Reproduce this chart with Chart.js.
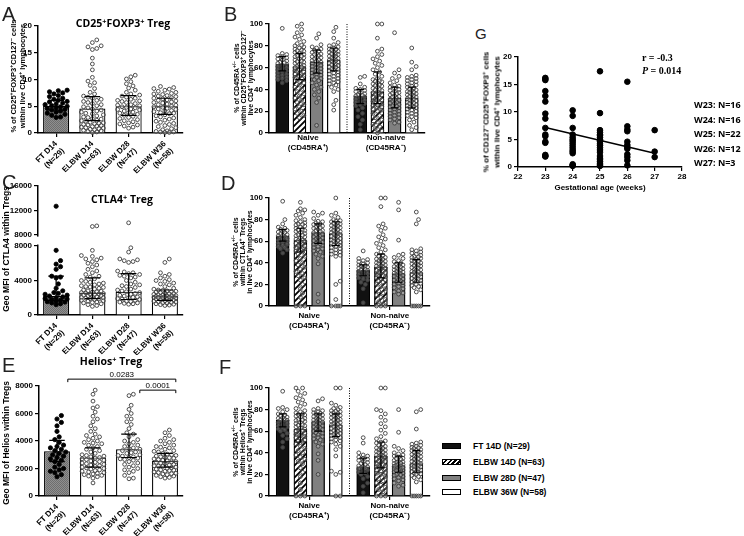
<!DOCTYPE html>
<html>
<head>
<meta charset="utf-8">
<title>Treg subsets in ELBW infants</title>
<script src="https://cdn.jsdelivr.net/npm/chart.js@4.4.1/dist/chart.umd.min.js"></script>
<style>
body { margin:0; background:#fff; }
#fig { position:relative; width:744px; height:536px; overflow:hidden; font-family:"Liberation Sans", Arial, sans-serif; color:#000; }
#fig canvas { position:absolute; }
.t { position:absolute; white-space:nowrap; font-weight:bold; transform:translate(-50%,-50%); text-align:center; }
.rot { transform:translate(-50%,-50%) rotate(-90deg); }
.let { position:absolute; font-size:20px; line-height:20px; color:#222; }
.ttl { font-family:"Open Sans", sans-serif; font-size:10.5px; }
.ya { font-size:7.5px; line-height:8.5px; }
.yb { font-size:7px; line-height:7px; }
.yc { font-size:8.5px; }
sup { font-size:70%; line-height:0; vertical-align:0.45em; }
.key { position:absolute; left:442px; width:17px; height:4px; border:1.5px solid #000; }
.keyt { position:absolute; left:473px; font-size:8.5px; font-weight:bold; transform:translateY(-50%); white-space:nowrap; }
.stat { position:absolute; left:642px; font-family:"Liberation Serif", serif; font-weight:bold; font-size:10px; transform:translateY(-50%); white-space:nowrap; }
.wk { position:absolute; left:694px; top:98px; font-family:"Open Sans", sans-serif; font-weight:bold; font-size:9px; line-height:14.5px; white-space:nowrap; }
</style>
</head>
<body>
<div id="fig">
 <canvas id="cA" width="200" height="180" style="left:0;top:0"></canvas>
 <canvas id="cC" width="200" height="185" style="left:0;top:170px"></canvas>
 <canvas id="cE" width="200" height="196" style="left:0;top:340px"></canvas>
 <canvas id="cB" width="190" height="160" style="left:240px;top:0"></canvas>
 <canvas id="cD" width="195" height="170" style="left:240px;top:170px"></canvas>
 <canvas id="cF" width="195" height="196" style="left:240px;top:340px"></canvas>
 <canvas id="cG" width="200" height="175" style="left:490px;top:20px"></canvas>

 <div class="let" style="left:2px;top:4px">A</div>
 <div class="let" style="left:224px;top:4px">B</div>
 <div class="let" style="left:2px;top:172px">C</div>
 <div class="let" style="left:221px;top:173px">D</div>
 <div class="let" style="left:2px;top:355px">E</div>
 <div class="let" style="left:219px;top:357px">F</div>
 <div class="let" style="left:475px;top:26px;font-size:15px;line-height:15px">G</div>

 <div class="t ttl" style="left:123px;top:23px">CD25<sup>+</sup>FOXP3<sup>+</sup> Treg</div>
 <div class="t ttl" style="left:122px;top:199px">CTLA4<sup>+</sup> Treg</div>
 <div class="t ttl" style="left:111px;top:361px">Helios<sup>+</sup> Treg</div>

 <div class="t rot ya" style="left:17.5px;top:76px">% of CD25<sup>+</sup>FOXP3<sup>+</sup>CD127<sup>&minus;</sup> cells<br>within live CD4<sup>+</sup> lymphocytes</div>
 <div class="t rot yc" style="left:6px;top:249px">Geo MFI of CTLA4 within Tregs</div>
 <div class="t rot yc" style="left:6px;top:443px">Geo MFI of Helios within Tregs</div>
 <div class="t rot yb" style="left:242.5px;top:78px">% of CD45RA<sup>+/&minus;</sup> cells<br>within CD25<sup>+</sup>FOXP3<sup>+</sup> CD127<sup>&minus;</sup><br>live CD4<sup>+</sup> lymphocytes</div>
 <div class="t rot yb" style="left:242px;top:252px">% of CD45RA<sup>+/&minus;</sup> cells<br>within CTLA4<sup>+</sup> Tregs<br>in live CD4<sup>+</sup> lymphocytes</div>
 <div class="t rot yb" style="left:242px;top:442px">% of CD45RA<sup>+/&minus;</sup> cells<br>within Helios<sup>+</sup> Tregs<br>in live CD4<sup>+</sup> lymphocytes</div>
 <div class="t rot" style="left:492px;top:112px;font-size:8px;line-height:10.5px">% of CD127<sup>&minus;</sup>CD25<sup>+</sup>FOXP3<sup>+</sup> cells<br>within live CD4<sup>+</sup> lymphocytes</div>

 <div class="stat" style="top:57px">r = -0.3</div>
 <div class="stat" style="top:70px"><i>P</i> = 0.014</div>
 <div class="wk" id="wk"></div>
 <div id="keys"></div>
</div>
<script>
Chart.defaults.font.family = '"Liberation Sans", Arial, sans-serif';
Chart.defaults.color = '#000';

// categories
var groupLabels = [['FT D14', '(N=29)'], ['ELBW D14', '(N=63)'], ['ELBW D28', '(N=47)'], ['ELBW W36', '(N=58)']];
var subsetLabels = [['Naive', '(CD45RA\u207A)'], ['Non-naive', '(CD45RA\u207B)']];
var legendNames = ['FT 14D (N=29)', 'ELBW 14D (N=63)', 'ELBW 28D (N=47)', 'ELBW 36W (N=58)'];

// A: CD25+FOXP3+ Treg, % of live CD4+
var aFT = [8.0,7.9,7.7,7.5,7.3,7.0,6.8,6.5,6.3,6.1,5.9,5.8,5.6,5.4,5.3,5.1,5.0,4.9,4.7,4.6,4.4,4.3,4.1,3.9,3.7,3.5,3.3,3.0,2.9];
var aD14 = [17.4,16.9,16.3,16.1,15.8,15.6,14.0,12.9,11.8,10.4,9.7,9.4,8.9,8.3,7.6,7.3,6.9,6.7,6.5,6.3,6.1,5.9,5.7,5.5,5.3,5.1,4.9,4.7,4.5,4.3,4.1,3.9,3.7,3.6,3.4,3.2,3.0,2.9,2.7,2.6,2.4,2.3,2.2,2.0,1.9,1.8,1.7,1.6,1.5,1.4,1.3,1.2,1.1,1.0,0.9,0.8,0.7,0.6,0.5,0.4,0.3,0.2,0.1];
var aD28 = [10.8,10.5,10.1,9.6,9.2,8.8,8.4,8.0,7.6,7.3,7.1,6.9,6.7,6.5,6.3,6.1,5.9,5.7,5.5,5.3,5.1,4.9,4.7,4.5,4.3,4.1,3.9,3.7,3.5,3.3,3.1,2.9,2.7,2.5,2.3,2.1,1.9,1.7,1.5,1.3,1.1,0.9,5.2,4.8,4.4,6.0,3.8];
var aW36 = [8.7,8.5,8.3,8.2,8.0,7.8,7.6,7.4,7.2,7.0,6.8,6.6,6.4,6.2,6.0,5.8,5.6,5.4,5.2,5.0,4.9,4.8,4.6,4.4,4.2,4.0,3.8,3.6,3.4,3.2,3.0,2.8,2.6,2.4,2.2,2.0,1.8,1.6,1.4,1.2,1.0,0.8,0.6,0.4,0.3,0.2,0.2,0.1,0.1,5.3,5.7,6.1,6.5,6.9,7.3,4.5,4.1,3.7];
var aMean = [5.1, 4.6, 5.0, 5.0];
var aLo = [4.3, 2.3, 3.3, 3.5];
var aHi = [6.1, 6.8, 7.0, 6.5];
var aTicks = [0, 5, 10, 15, 20];

// C: CTLA4 geo MFI within Tregs (broken axis at 8000)
var cFT = [12700,7500,6300,5900,5600,5300,4500,4400,4300,3600,3100,2800,2500,2300,2200,2100,2000,1900,1800,1700,1600,1500,1400,1300,1200,2600,2400,1850,1550];
var cD14 = [9500,9400,7500,6900,6800,6600,6500,6200,6000,5800,5600,5100,4900,4700,4500,4400,4200,4000,3900,3700,3600,3500,3400,3300,3200,3100,3000,2900,2800,2700,2650,2600,2550,2500,2450,2400,2350,2300,2250,2200,2150,2100,2050,2000,1950,1900,1850,1800,1700,1600,1500,1400,1300,1200,1100,1000,2750,3250,3800,5300,6400,1650,1450];
var cD28 = [10000,7800,7300,6500,6400,6300,6200,6100,5100,5000,4900,4800,4700,4600,4500,4300,4000,3800,3600,3400,3200,3000,2900,2800,2700,2600,2500,2400,2300,2200,2100,2000,1900,1800,1700,1600,1500,1400,1300,1250,4400,3500,3300,2050,1850,1550,1350];
var cW36 = [6500,6100,4900,4700,4500,4300,4100,3900,3700,3500,3300,3100,3000,2900,2850,2800,2750,2700,2650,2600,2550,2500,2450,2400,2350,2300,2250,2200,2150,2100,2050,2000,1950,1900,1850,1800,1750,1700,1650,1600,1550,1500,1450,1400,1350,1300,1250,1200,1150,1100,2220,2180,2120,2080,2020,1980,3600,4000];
var cMean = [2200, 2600, 2700, 2200];
var cLo = [1700, 1900, 1800, 1700];
var cHi = [4500, 4300, 4800, 2900];
var cLowTicks = [0, 2000, 4000, 6000, 8000];
var cTopTicks = [8000, 12000, 16000];
var cBreak = 8000;

// E: Helios geo MFI within Tregs
var eFT = [5850,5600,5350,5100,4700,4300,4100,3900,3700,3500,3400,3300,3200,3100,3000,2900,2800,2700,2600,2500,2300,2100,2000,1900,1800,1700,1550,1400,3600];
var eD14 = [7700,7400,6900,6500,6400,6100,5800,5600,5400,5100,4900,4700,4500,4400,4300,4200,4100,4000,3900,3800,3700,3600,3500,3400,3300,3200,3100,3000,2950,2900,2850,2800,2750,2700,2650,2600,2550,2500,2450,2400,2350,2300,2250,2200,2150,2100,2050,2000,1950,1900,1850,1800,1750,1700,1650,1600,1550,1500,1450,1400,1300,950,3850];
var eD28 = [7400,7300,6600,6300,6000,5800,5600,5400,5200,4900,4600,4500,4300,4100,4000,3900,3800,3700,3600,3500,3400,3300,3200,3100,3000,2950,2900,2850,2800,2750,2700,2600,2500,2400,2300,2200,2100,2000,1900,1800,1700,1500,1300,1250,3450,3150,2650];
var eW36 = [4800,4600,4400,4200,4000,3900,3800,3700,3600,3500,3400,3300,3200,3100,3000,2950,2900,2850,2800,2750,2700,2650,2600,2550,2500,2450,2400,2350,2300,2250,2200,2150,2100,2050,2000,1950,1900,1850,1800,1750,1700,1650,1600,1550,1500,1450,1400,1350,1300,3550,3250,3050,2780,2480,2180,1880,1620,4100];
var eMean = [3250, 2800, 3400, 2550];
var eLo = [2500, 2100, 2800, 2100];
var eHi = [4050, 3500, 4500, 3100];
var eTicks = [0, 2000, 4000, 6000, 8000];
var sigPairs = [[0, 3], [2, 3]];
var sigLabels = ['0.0283', '0.0001'];
var sigLevels = [8500, 7700];

var pctTicks = [0, 20, 40, 60, 80, 100];

// B: CD45RA+/- within CD25+FOXP3+CD127- (FT, D14, D28, W36)
var bNaiveFT = [96,73,72,71,70,69,68,67,66,65,64,63,62,61,60,59,58,57,56,55,54,53,52,51,50,49,48,46,64.5];
var bNaiveD14 = [100,98,95,92,90,88,86,84,82,80,79,78,77,76,75,74,73,72,71,70,69,68,67,66,65,64,63,62,61,60,59,58,57,56,55,54,53,52,51,50,48,46,44,42,40,38,36,34,32,30,28,26,24,22,20,18,16,14,65.5,70.5,75.5,60.5,80.5];
var bNaiveD28 = [91,87,81,79,78,77,76,75,74,73,72,71,70,69,68,67,66,65,64,63,62,61,60,59,58,57,56,55,54,53,52,51,50,49,48,46,44,42,40,38,35,32,28,7,66.5,69.5,72.5];
var bNaiveW36 = [97,93,87,83,81,80,79,78,77,76,75,74,73,72,71,70,69,68,67,66,65,64,63,62,61,60,59,58,57,56,55,54,53,52,51,50,49,48,47,46,45,44,42,40,38,30,26,21,76.5,74.5,72.5,70.5,68.5,66.5,64.5,62.5,60.5,58.5];
var bNonFT = [52,51,45,42,41,40,39,38,37,36,35,34,33,32,31,30,29,28,27,26,25,23,21,18,15,12,8,3,34.5];
var bNonD14 = [100,100,87,77,75,72,70,68,66,64,62,60,58,56,54,52,50,49,48,47,46,45,44,43,42,41,40,39,38,37,36,35,34,33,32,31,30,29,28,27,26,25,24,23,22,21,20,18,16,14,12,10,8,6,4,2,0,35.5,39.5,43.5,47.5,30.5,26.5];
var bNonD28 = [92,58,55,52,50,48,46,44,43,42,41,40,39,38,37,36,35,34,33,32,31,30,29,28,27,26,25,24,23,22,21,20,19,18,17,16,15,14,13,12,10,9,33.5,30.5,27.5,36.5,24.5];
var bNonW36 = [78,65,61,58,53,52,51,50,49,48,47,46,45,44,43,42,41,40,39,38,37,36,35,34,33,32,31,30,29,28,27,26,25,24,23,22,21,20,19,18,17,16,15,14,12,10,7,5,3,33.5,31.5,29.5,27.5,35.5,37.5,25.5,23.5,39.5];
var bMeans = [[63, 34], [61, 38], [65, 32], [67, 32]];
var bLo = [[57, 27], [49, 27], [55, 23], [57, 23]];
var bHi = [[70, 40], [73, 56], [76, 42], [78, 42]];

// D: CD45RA+/- within CTLA4+ Tregs
var dNaiveFT = [97,80,76,73,72,71,70,69,68,67,66,65,64,63,62,61,60,59,58,57,56,55,54,53,52,49,65.5,62.5,68.5];
var dNaiveD14 = [96,90,89,88,86,84,82,80,79,78,77,76,75,74,73,72,71,70,69,68,67,66,65,64,63,62,61,60,59,58,57,56,55,54,53,52,51,50,48,46,44,42,40,38,36,34,32,30,28,26,24,20,16,12,8,0,0,0,65.5,60.5,70.5,75.5,55.5];
var dNaiveD28 = [87,86,84,81,78,77,76,75,74,73,72,71,70,69,68,67,66,65,64,63,62,61,60,59,58,57,56,55,54,53,52,51,50,48,46,44,39,11,4,66.5,69.5,72.5,63.5,60.5,75.5,57.5,78.5];
var dNaiveW36 = [100,86,84,82,80,79,78,77,76,75,74,73,72,71,70,69,68,67,66,65,64,63,62,61,60,59,58,57,56,55,54,53,52,51,50,49,48,47,46,23,20,6,0,0,0,0,76.5,74.5,72.5,70.5,68.5,66.5,64.5,62.5,60.5,58.5,56.5,78.5];
var dNonFT = [51,44,43,42,41,40,39,38,37,36,35,34,33,32,31,30,29,28,27,26,25,24,22,20,16,3,35.5,33.5,37.5];
var dNonD14 = [100,100,92,76,74,72,70,66,64,62,60,58,56,54,52,50,48,47,46,45,44,43,42,41,40,39,38,37,36,35,34,33,32,31,30,29,28,27,26,25,24,23,22,20,18,16,14,12,10,8,6,4,2,0,0,0,35.5,39.5,43.5,31.5,27.5,37.5,41.5];
var dNonD28 = [96,89,61,48,47,45,44,42,41,40,39,38,37,36,35,34,33,32,31,30,29,28,27,26,25,24,23,22,21,20,19,18,17,16,14,13,12,11,30.5,33.5,27.5,36.5,24.5,21.5,31.5,28.5,34.5];
var dNonW36 = [87,80,76,53,52,51,50,49,48,47,46,45,44,43,42,41,40,39,38,37,36,35,34,33,32,31,30,29,28,27,26,25,24,23,22,21,20,19,18,17,15,13,0,0,0,0,0,33.5,31.5,29.5,35.5,37.5,27.5,25.5,39.5,41.5,23.5,45.5];
var dMeans = [[65, 33], [61, 36], [68, 30], [67, 31]];
var dLo = [[60, 28], [50, 26], [58, 22], [56, 22]];
var dHi = [[71, 38], [72, 48], [76, 40], [78, 43]];

// F: CD45RA+/- within Helios+ Tregs
var fNaiveFT = [97,82,81,80,78,76,75,74,73,72,71,70,69,68,67,66,65,64,63,62,61,60,58,56,53,50,45,70.5,72.5];
var fNaiveD14 = [100,100,97,95,93,91,89,87,85,83,81,79,78,77,76,75,74,73,72,71,70,69,68,67,66,65,64,63,62,61,60,59,58,57,56,55,54,53,52,51,50,48,46,44,42,40,38,36,34,32,30,26,22,18,12,6,0,0,0,65.5,70.5,60.5,75.5];
var fNaiveD28 = [90,88,81,80,79,78,77,76,75,74,73,72,71,70,69,68,67,66,65,64,63,62,61,60,59,58,57,56,55,54,53,52,50,48,46,39,33,20,70.5,67.5,73.5,64.5,61.5,76.5,58.5,68.5,71.5];
var fNaiveW36 = [100,100,86,84,82,81,80,79,78,77,76,75,74,73,72,71,70,69,68,67,66,65,64,63,62,61,60,59,58,57,56,55,54,53,52,51,50,48,46,43,37,23,22,20,0,0,76.5,74.5,72.5,70.5,68.5,66.5,64.5,62.5,60.5,58.5,56.5,78.5];
var fNonFT = [54,49,40,38,37,36,35,34,33,32,31,30,29,28,27,26,25,24,23,22,21,20,18,16,12,9,3,27.5,25.5];
var fNonD14 = [100,100,80,79,76,73,70,67,64,61,58,55,53,51,50,49,48,47,46,45,44,43,42,41,40,39,38,37,36,35,34,33,32,31,30,29,28,27,26,25,24,23,22,21,20,18,16,14,12,10,8,6,4,0,0,0,36.5,40.5,44.5,32.5,28.5,38.5,42.5];
var fNonD28 = [80,59,46,44,42,40,39,38,37,36,35,34,33,32,31,30,29,28,27,26,25,24,23,22,21,20,19,18,17,16,15,14,12,10,9,28.5,25.5,31.5,22.5,34.5,19.5,29.5,26.5,24.5,27.5,30.5,23.5];
var fNonW36 = [80,78,62,50,49,48,47,46,45,44,43,42,41,40,39,38,37,36,35,34,33,32,31,30,29,28,27,26,25,24,23,22,21,20,19,18,17,15,13,0,0,0,0,0,30.5,32.5,28.5,34.5,26.5,36.5,24.5,38.5,22.5,40.5,42.5,20.5,44.5,27.5];
var fMeans = [[70, 27], [62, 37], [69, 28], [66, 30]];
var fLo = [[64, 21], [50, 26], [60, 22], [55, 22]];
var fHi = [[76, 35], [76, 50], [76, 37], [76, 42]];

// G: Treg % by gestational age
var gaWeeks = [23, 24, 25, 26, 27];
var gaW23 = [16.2,16.0,15.8,13.8,12.9,11.9,9.7,8.8,7.1,5.9,5.6,4.6,4.4,2.2,2.0,1.9];
var gaW24 = [10.3,9.3,7.1,5.9,5.4,5.0,4.7,4.3,3.9,3.5,3.1,2.8,2.5,0.5,0.3,0.2];
var gaW25 = [17.4,9.8,6.7,6.3,5.9,5.7,5.4,5.0,4.8,4.6,4.2,3.9,3.5,3.1,2.7,2.0,1.6,1.3,1.0,0.7,0.4,0.2];
var gaW26 = [15.5,7.4,6.8,6.5,4.6,4.0,3.6,3.3,2.3,1.8,1.2,0.3];
var gaW27 = [6.7,2.8,1.8];
var gaFit = [[23, 7.2], [27, 2.5]];
var gaTicksX = [22, 23, 24, 25, 26, 27, 28];
var gaTicksY = [0, 5, 10, 15, 20];
var gaCounts = ['W23: N=16', 'W24: N=16', 'W25: N=22', 'W26: N=12', 'W27: N=3'];

// fills
function hatch() {
  var c = document.createElement('canvas');
  c.width = c.height = 6;
  var g = c.getContext('2d');
  g.fillStyle = '#fff'; g.fillRect(0, 0, 6, 6);
  g.strokeStyle = '#000'; g.lineWidth = 1.8;
  g.beginPath();
  g.moveTo(-1, 7); g.lineTo(7, -1);
  g.moveTo(-1, 1); g.lineTo(1, -1);
  g.moveTo(5, 7); g.lineTo(7, 5);
  g.stroke();
  return g.createPattern(c, 'repeat');
}
function speckle() {
  var c = document.createElement('canvas');
  c.width = c.height = 2;
  var g = c.getContext('2d');
  g.fillStyle = '#8f8f8f'; g.fillRect(0, 0, 2, 2);
  g.fillStyle = '#6e6e6e'; g.fillRect(0, 0, 1, 1); g.fillRect(1, 1, 1, 1);
  return g.createPattern(c, 'repeat');
}
var hat = hatch(), speck = speckle();
var subsetFills = ['#111', hat, '#808080', '#fff'];

// legend + week counts
var keyRows = [446, 462, 478, 492];
var keyCss = ['background:#111', 'background:repeating-linear-gradient(135deg,#fff 0 1.6px,#000 1.6px 3.4px)', 'background:#808080', 'background:#fff'];
var keyHtml = '';
legendNames.forEach(function(n, i) {
  keyHtml += '<div class="key" style="top:' + (keyRows[i] - 3.5) + 'px;' + keyCss[i] + '"></div>';
  keyHtml += '<div class="keyt" style="top:' + keyRows[i] + 'px">' + n + '</div>';
});
document.getElementById('keys').innerHTML = keyHtml;
document.getElementById('wk').innerHTML = gaCounts.join('<br>');

// spread dots sideways like a scatter-dot plot (offsets in px)
function swarm(vals, pxY, half) {
  var d = 4.4, placed = [], out = [];
  var idx = vals.map(function(v, i) { return i; }).sort(function(a, b) { return vals[a] - vals[b]; });
  idx.forEach(function(i) {
    var y = vals[i] * pxY, best = 0, bestGap = -1;
    for (var k = 0; k < 60; k++) {
      var dx = (k % 2 ? 1 : -1) * Math.ceil(k / 2) * d / 2;
      if (Math.abs(dx) > half) break;
      var gap = Infinity;
      placed.forEach(function(p) {
        var dd = Math.sqrt((p[0] - dx) * (p[0] - dx) + (p[1] - y) * (p[1] - y));
        if (dd < gap) gap = dd;
      });
      if (gap >= d) { best = dx; break; }
      if (gap > bestGap) { bestGap = gap; best = dx; }
    }
    placed.push([best, y]);
    out[i] = best;
  });
  return out;
}

function dots(vals, center, pxY, pxCat, half, filled, yId) {
  var off = swarm(vals, pxY, half);
  var ring = filled ? '#000' : '#3c3c3c';
  var fill = filled ? '#000' : 'rgba(255,255,255,0.25)';
  return {
    type: 'scatter', xAxisID: 'x2', yAxisID: yId || 'y', order: 1, clip: false,
    data: vals.map(function(v, i) { return { x: center + off[i] / pxCat, y: v }; }),
    pointRadius: filled ? 2.1 : 1.9, pointBorderWidth: 0.9, borderWidth: 0.9,
    backgroundColor: fill, borderColor: ring, pointBackgroundColor: fill, pointBorderColor: ring
  };
}

function fixTicks(list) {
  return function(s) { s.ticks = list.map(function(v) { return { value: v }; }); };
}

function yAxis(ticks, min, max, width, extra) {
  var o = {
    min: min, max: max, afterBuildTicks: fixTicks(ticks),
    ticks: { font: { size: 8, weight: 'bold' }, color: '#000', padding: 2, callback: function(v) { return String(v); } },
    grid: { drawOnChartArea: false, color: '#000', lineWidth: 1.2, tickLength: 4 },
    border: { color: '#000', width: 1.5 },
    afterFit: function(s) { s.width = width; }
  };
  for (var k in extra) o[k] = extra[k];
  return o;
}

function xCat(height, rot, tickLen, pad) {
  return {
    grid: { display: true, drawOnChartArea: false, offset: false, color: '#000', lineWidth: 1.2, tickLength: tickLen },
    border: { color: '#000', width: 1.5 },
    ticks: { font: { size: 8, weight: 'bold', lineHeight: 1.25 }, color: '#000', minRotation: rot, maxRotation: rot, autoSkip: false, padding: pad },
    afterFit: function(s) { s.height = height; }
  };
}

function x2(n) { return { type: 'linear', display: false, offset: false, min: -0.5, max: n - 0.5 }; }

function base(pad, scales) {
  return {
    responsive: false, animation: false, events: [],
    layout: { padding: { top: pad.top, right: pad.right, left: 0, bottom: 0 } },
    plugins: { legend: { display: false }, tooltip: { enabled: false } },
    scales: scales
  };
}

// mean with error bars
var errBars = {
  id: 'errBars',
  afterDatasetsDraw: function(ch) {
    var g = ch.ctx;
    g.save(); g.strokeStyle = '#000'; g.lineWidth = 1.2;
    ch.data.datasets.forEach(function(ds, i) {
      if (!ds.lo) return;
      var ys = ch.scales[ds.yAxisID || 'y'];
      ch.getDatasetMeta(i).data.forEach(function(bar, j) {
        var x = bar.x, w = bar.width * 0.3;
        var y1 = ys.getPixelForValue(ds.lo[j]), y2 = ys.getPixelForValue(ds.hi[j]);
        g.beginPath();
        g.moveTo(x, y1); g.lineTo(x, y2);
        g.moveTo(x - w, y1); g.lineTo(x + w, y1);
        g.moveTo(x - w, y2); g.lineTo(x + w, y2);
        g.stroke();
      });
    });
    g.restore();
  }
};

var separator = {
  id: 'separator',
  afterDatasetsDraw: function(ch) {
    var xs = ch.scales.x, a = ch.chartArea, g = ch.ctx;
    var x = (xs.getPixelForTick(0) + xs.getPixelForTick(1)) / 2;
    g.save(); g.strokeStyle = '#000'; g.lineWidth = 1; g.setLineDash([1, 1.5]);
    g.beginPath(); g.moveTo(x, a.top); g.lineTo(x, a.bottom); g.stroke();
    g.restore();
  }
};

var axisBreak = {
  id: 'axisBreak',
  afterDraw: function(ch) {
    var g = ch.ctx, x = ch.chartArea.left;
    var a = ch.scales.yTop.getPixelForValue(cBreak) + 1.5, b = ch.scales.y.getPixelForValue(cBreak) - 1.5;
    g.save(); g.fillStyle = '#fff'; g.fillRect(x - 3, a, 5, b - a); g.restore();
  }
};

var sigBrackets = {
  id: 'sigBrackets',
  afterDraw: function(ch) {
    var xs = ch.scales.x, ys = ch.scales.y, g = ch.ctx;
    var shift = (xs.getPixelForTick(1) - xs.getPixelForTick(0)) * 0.3;
    g.save(); g.strokeStyle = '#000'; g.fillStyle = '#000'; g.lineWidth = 1;
    g.font = '8px "Liberation Sans", Arial, sans-serif'; g.textAlign = 'center'; g.textBaseline = 'bottom';
    sigPairs.forEach(function(p, k) {
      var x1 = xs.getPixelForTick(p[0]) + shift, x2p = xs.getPixelForTick(p[1]) + shift;
      var y = ys.getPixelForValue(sigLevels[k]);
      g.beginPath();
      g.moveTo(x1, y + 3); g.lineTo(x1, y); g.lineTo(x2p, y); g.lineTo(x2p, y + 3);
      g.stroke();
      g.fillText(sigLabels[k], (x1 + x2p) / 2, y - 0.5);
    });
    g.restore();
  }
};

function groupBar(mean, lo, hi) {
  return { type: 'bar', data: mean, lo: lo, hi: hi, grouped: false,
    backgroundColor: [speck, '#fff', '#fff', '#fff'], borderColor: '#000', borderWidth: 1.3,
    categoryPercentage: 1, barPercentage: 0.72, order: 2 };
}

// A
new Chart(document.getElementById('cA'), {
  type: 'bar',
  data: {
    labels: groupLabels,
    datasets: [
      groupBar(aMean, aLo, aHi),
      dots(aFT, 0, 5.35, 36.25, 11, true),
      dots(aD14, 1, 5.35, 36.25, 11, false),
      dots(aD28, 2, 5.35, 36.25, 11, false),
      dots(aW36, 3, 5.35, 36.25, 11, false)
    ]
  },
  options: base({ top: 26, right: 17 }, { x: xCat(47, 45, 4, 2), x2: x2(4), y: yAxis(aTicks, 0, 20, 38) }),
  plugins: [errBars]
});

// C (split axis)
var cLists = [cFT, cD14, cD28, cW36];
var cSets = [groupBar(cMean, cLo, cHi)];
cLists.forEach(function(list, i) {
  var low = list.filter(function(v) { return v <= cBreak; });
  var high = list.filter(function(v) { return v > cBreak; });
  cSets.push(dots(low, i, 0.00862, 36.25, 11, i === 0));
  if (high.length) cSets.push(dots(high, i, 0.00614, 36.25, 11, i === 0, 'yTop'));
});
new Chart(document.getElementById('cC'), {
  type: 'bar',
  data: { labels: groupLabels, datasets: cSets },
  options: base({ top: 16, right: 17 }, {
    x: xCat(40, 45, 4, 2), x2: x2(4),
    y: yAxis(cLowTicks, 0, 8700, 38, { stack: 'c', stackWeight: 75, position: 'left' }),
    yTop: yAxis(cTopTicks, 7200, 16000, 38, { stack: 'c', stackWeight: 54, position: 'left' })
  }),
  plugins: [errBars, axisBreak]
});

// E
new Chart(document.getElementById('cE'), {
  type: 'bar',
  data: {
    labels: groupLabels,
    datasets: [
      groupBar(eMean, eLo, eHi),
      dots(eFT, 0, 0.01375, 36.25, 11, true),
      dots(eD14, 1, 0.01375, 36.25, 11, false),
      dots(eD28, 2, 0.01375, 36.25, 11, false),
      dots(eW36, 3, 0.01375, 36.25, 11, false)
    ]
  },
  options: base({ top: 46, right: 17 }, { x: xCat(40, 45, 4, 2), x2: x2(4), y: yAxis(eTicks, 0, 8000, 39) }),
  plugins: [errBars, sigBrackets]
});

// B, D, F: naive / non-naive split, four bars per subset placed on the hidden linear axis
var cp = 0.88;
function barCenter(cat, k) { return cat - cp / 2 + (k + 0.5) * cp / 4; }

function subsetChart(id, means, lo, hi, lists, pad, xH, tickLen, tickPad, pxY, pxCat) {
  var ds = [];
  for (var k = 0; k < 4; k++) {
    ds.push({ type: 'bar', xAxisID: 'x2', grouped: false, barThickness: 13,
      data: means[k].map(function(m, c) { return { x: barCenter(c, k), y: m }; }),
      lo: lo[k], hi: hi[k], backgroundColor: subsetFills[k], borderColor: '#000', borderWidth: 1.3, order: 2 });
  }
  for (var c = 0; c < 2; c++) {
    for (k = 0; k < 4; k++) ds.push(dots(lists[c][k], barCenter(c, k), pxY, pxCat, 5.5, false));
  }
  new Chart(document.getElementById(id), {
    type: 'bar',
    data: { labels: subsetLabels, datasets: ds },
    options: base(pad, { x: xCat(xH, 0, tickLen, tickPad), x2: x2(2), y: yAxis(pctTicks, 0, 100, 29) }),
    plugins: [errBars, separator]
  });
}

subsetChart('cB', bMeans, bLo, bHi,
  [[bNaiveFT, bNaiveD14, bNaiveD28, bNaiveW36], [bNonFT, bNonD14, bNonD28, bNonW36]],
  { top: 24, right: 5 }, 27, 0, 0, 1.09, 78);
subsetChart('cD', dMeans, dLo, dHi,
  [[dNaiveFT, dNaiveD14, dNaiveD28, dNaiveW36], [dNonFT, dNonD14, dNonD28, dNonW36]],
  { top: 28, right: 5 }, 34, 4, 1, 1.08, 80.5);
subsetChart('cF', fMeans, fLo, fHi,
  [[fNaiveFT, fNaiveD14, fNaiveD28, fNaiveW36], [fNonFT, fNonD14, fNonD28, fNonW36]],
  { top: 48, right: 5 }, 40, 4, 1, 1.08, 80.5);

// G
var gaLists = [gaW23, gaW24, gaW25, gaW26, gaW27];
var gaPoints = [];
gaLists.forEach(function(list, i) {
  list.forEach(function(v) { gaPoints.push({ x: gaWeeks[i], y: v }); });
});
new Chart(document.getElementById('cG'), {
  type: 'scatter',
  data: {
    datasets: [
      { data: gaPoints, pointRadius: 2.8, backgroundColor: '#000', borderColor: '#000', clip: false },
      { type: 'line', data: gaFit.map(function(p) { return { x: p[0], y: p[1] }; }), borderColor: '#000', borderWidth: 1.5, pointRadius: 0, fill: false }
    ]
  },
  options: base({ top: 37, right: 8 }, {
    x: {
      type: 'linear', min: 22, max: 28, afterBuildTicks: fixTicks(gaTicksX),
      ticks: { font: { size: 8, weight: 'bold' }, color: '#000', padding: 1 },
      grid: { drawOnChartArea: false, color: '#000', lineWidth: 1.2, tickLength: 4 },
      border: { color: '#000', width: 1.5 },
      title: { display: true, text: 'Gestational age (weeks)', font: { size: 8, weight: 'bold' }, color: '#000', padding: { top: 2, bottom: 2 } },
      afterFit: function(s) { s.height = 28; }
    },
    y: yAxis(gaTicksY, 0, 20, 28)
  })
});
</script>
</body>
</html>
